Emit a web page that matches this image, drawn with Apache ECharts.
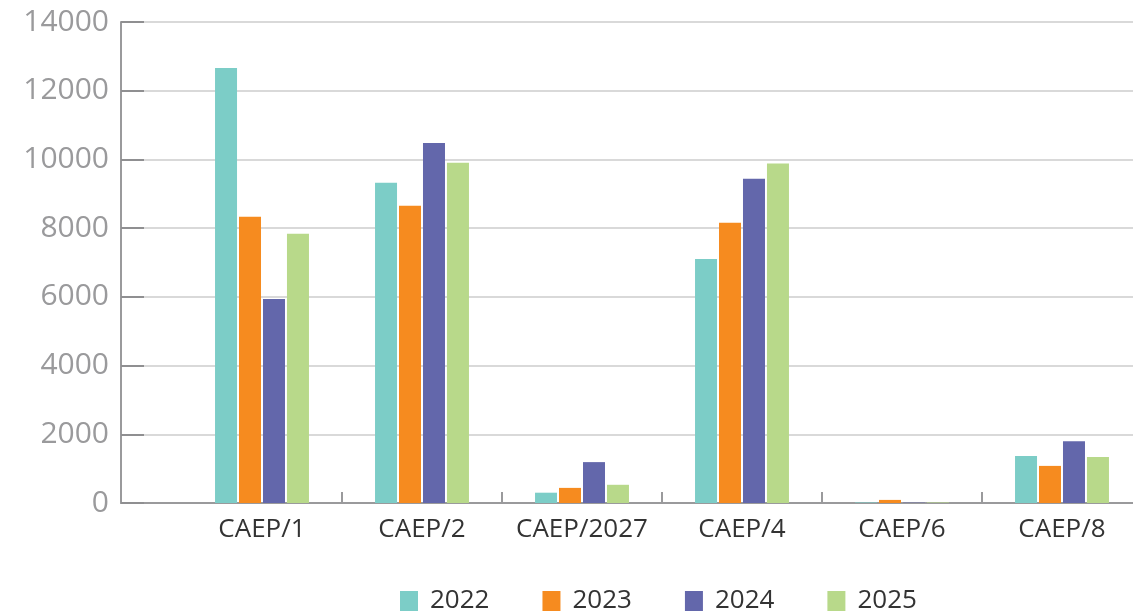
<!DOCTYPE html>
<html>
<head>
<meta charset="utf-8">
<script src="https://cdn.jsdelivr.net/npm/echarts@6/dist/echarts.min.js"></script>
<style>
  html, body { margin: 0; padding: 0; background: #fff; }
  #chart { width: 1133px; height: 612px; }
</style>
</head>
<body>
<div id="chart"></div>
<script>
// Stage categories and yearly values
const categories = ['CAEP/1', 'CAEP/2', 'CAEP/2027', 'CAEP/4', 'CAEP/6', 'CAEP/8'];
const years = ['2022', '2023', '2024', '2025'];
const values2022 = [12660, 9320, 300, 7100, 15, 1370];
const values2023 = [8330, 8650, 440, 8160, 90, 1080];
const values2024 = [5940, 10480, 1190, 9440, 10, 1800];
const values2025 = [7840, 9900, 530, 9880, 15, 1340];
const yTicks = [0, 2000, 4000, 6000, 8000, 10000, 12000, 14000];

const colors = ['#7ccdc7', '#f68b1f', '#6367ab', '#b8d98a'];
const seriesValues = [values2022, values2023, values2024, values2025];

const yMax = yTicks[yTicks.length - 1];
const yStep = yTicks[1] - yTicks[0];
const FONT = '"Open Sans", sans-serif';

const chart = echarts.init(document.getElementById('chart'));

chart.setOption({
  animation: false,
  backgroundColor: '#ffffff',
  color: colors,
  grid: [
    // frame: value axis, gridlines and baseline
    { left: 121, right: 0, top: 22, bottom: 109, outerBoundsMode: 'none' },
    // bars and category labels (last slot runs past the right edge)
    { left: 182, width: 960, top: 22, bottom: 109, outerBoundsMode: 'none' }
  ],
  legend: {
    data: years,
    left: 395,
    top: 583,
    icon: 'rect',
    itemWidth: 18,
    itemHeight: 20,
    itemGap: 53,
    textStyle: {
      fontFamily: FONT,
      fontSize: 26,
      color: '#333333',
      padding: [0, 0, 0, 7]
    }
  },
  xAxis: [
    {
      gridIndex: 0,
      type: 'value',
      min: 0,
      max: 1,
      axisLine: { show: true, lineStyle: { color: '#9a9a9c', width: 2 } },
      axisTick: { show: false },
      axisLabel: { show: false },
      splitLine: { show: false }
    },
    {
      gridIndex: 1,
      type: 'category',
      data: categories,
      axisLine: { show: false },
      axisTick: {
        show: true,
        inside: true,
        length: 11,
        interval: function (i) { return i !== 0; },
        lineStyle: { color: '#9a9a9c', width: 2 }
      },
      axisLabel: {
        interval: 0,
        fontFamily: FONT,
        fontSize: 26,
        color: '#333333',
        margin: 14
      },
      splitLine: { show: false }
    }
  ],
  yAxis: [
    {
      gridIndex: 0,
      type: 'value',
      min: 0,
      max: yMax,
      interval: yStep,
      axisLine: { show: true, lineStyle: { color: '#9a9a9c', width: 2 } },
      axisTick: { show: true, inside: true, length: 23, lineStyle: { color: '#8f8f91', width: 2 } },
      axisLabel: {
        fontFamily: FONT,
        fontSize: 30,
        color: '#9a9a9c',
        margin: 12,
        formatter: function (v) { return String(v); }
      },
      splitLine: { show: true, lineStyle: { color: '#d9d9d9', width: 2 } }
    },
    {
      gridIndex: 1,
      type: 'value',
      min: 0,
      max: yMax,
      interval: yStep,
      show: false,
      splitLine: { show: false }
    }
  ],
  series: years.map(function (y, i) {
    return {
      name: y,
      type: 'bar',
      xAxisIndex: 1,
      yAxisIndex: 1,
      data: seriesValues[i],
      barWidth: 22,
      barGap: '9%',
      itemStyle: { color: colors[i] }
    };
  })
});
</script>
</body>
</html>
